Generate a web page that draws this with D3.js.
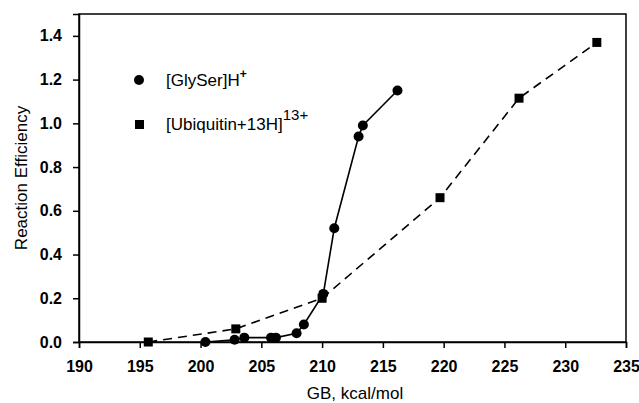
<!DOCTYPE html>
<html>
<head>
<meta charset="utf-8">
<script src="https://d3js.org/d3.v7.min.js"></script>
<style>
  body { margin: 0; background: #fff; }
  svg { font-family: "Liberation Sans", Arial, sans-serif; }
</style>
</head>
<body>
<svg width="639" height="403"></svg>
<script>
// GlySer (circles, solid line)
var glyGB  = [200.4, 202.8, 203.6, 205.8, 206.2, 207.9, 208.5, 210.1, 211.0, 213.0, 213.35, 216.2];
var glyEff = [0.0, 0.01, 0.02, 0.02, 0.02, 0.04, 0.08, 0.22, 0.52, 0.94, 0.99, 1.15];
// Ubiquitin (squares, dashed line)
var ubiGB  = [195.7, 202.9, 210.0, 219.7, 226.2, 232.6];
var ubiEff = [0.0, 0.06, 0.2, 0.66, 1.115, 1.37];

var xTicks = [190, 195, 200, 205, 210, 215, 220, 225, 230, 235];
var yTicks = [0.0, 0.2, 0.4, 0.6, 0.8, 1.0, 1.2, 1.4];

var svg = d3.select("svg"),
    margin = {left: 79, top: 14, right: 13, bottom: 61},
    width = 639 - margin.left - margin.right,
    height = 403 - margin.top - margin.bottom;

var x = d3.scaleLinear().domain([190, 235]).range([0, width]);
var y = d3.scaleLinear().domain([0, 1.5]).range([height, 0]);

var g = svg.append("g").attr("transform", "translate(" + margin.left + "," + margin.top + ")");

// frame
g.append("rect")
    .attr("width", width).attr("height", height)
    .attr("fill", "none").attr("stroke", "#000").attr("stroke-width", 1.5);

var xAxis = g.append("g")
    .attr("transform", "translate(0," + height + ")")
    .call(d3.axisBottom(x).tickValues(xTicks).tickSize(6).tickPadding(13).tickFormat(d3.format("d")));
var yAxis = g.append("g")
    .call(d3.axisLeft(y).tickValues(yTicks).tickSize(6).tickPadding(11).tickFormat(d3.format(".1f")));

[xAxis, yAxis].forEach(function(a) {
  a.select(".domain").attr("stroke-width", 1.5);
  a.selectAll(".tick line").attr("stroke-width", 1.5);
  a.selectAll(".tick text").attr("font-size", 16).attr("font-weight", "bold")
    .attr("font-family", "Liberation Sans, Arial, sans-serif").attr("fill", "#000");
});

// lines
var gly = glyGB.map(function(d, i) { return [d, glyEff[i]]; });
var ubi = ubiGB.map(function(d, i) { return [d, ubiEff[i]]; });
var line = d3.line().x(function(d) { return x(d[0]); }).y(function(d) { return y(d[1]); });

g.append("path").datum(ubi).attr("d", line)
    .attr("fill", "none").attr("stroke", "#000").attr("stroke-width", 1.6)
    .attr("stroke-dasharray", "9,6");
g.append("path").datum(gly).attr("d", line)
    .attr("fill", "none").attr("stroke", "#000").attr("stroke-width", 1.6);

g.selectAll(".sq").data(ubi).enter().append("rect")
    .attr("x", function(d) { return x(d[0]) - 4.5; })
    .attr("y", function(d) { return y(d[1]) - 4.5; })
    .attr("width", 9).attr("height", 9).attr("fill", "#000");
g.selectAll(".ci").data(gly).enter().append("circle")
    .attr("cx", function(d) { return x(d[0]); })
    .attr("cy", function(d) { return y(d[1]); })
    .attr("r", 5).attr("fill", "#000");

// legend
var leg = svg.append("g");
leg.append("circle").attr("cx", 139).attr("cy", 80).attr("r", 5).attr("fill", "#000");
leg.append("rect").attr("x", 135).attr("y", 120).attr("width", 9).attr("height", 9).attr("fill", "#000");
var t1 = leg.append("text").attr("x", 166).attr("y", 86).attr("font-size", 17);
t1.append("tspan").text("[GlySer]H");
t1.append("tspan").attr("dy", -8).attr("font-size", 12).attr("font-weight", "bold").text("+");
var t2 = leg.append("text").attr("x", 166).attr("y", 130).attr("font-size", 17);
t2.append("tspan").text("[Ubiquitin+13H]");
t2.append("tspan").attr("dy", -10).attr("font-size", 15).text("13+");

// axis titles
svg.append("text")
    .attr("x", 355).attr("y", 399)
    .attr("text-anchor", "middle").attr("font-size", 17)
    .text("GB, kcal/mol");
svg.append("text")
    .attr("transform", "translate(27," + (margin.top + height / 2) + ") rotate(-90)")
    .attr("text-anchor", "middle").attr("font-size", 17)
    .text("Reaction Efficiency");
</script>
</body>
</html>
